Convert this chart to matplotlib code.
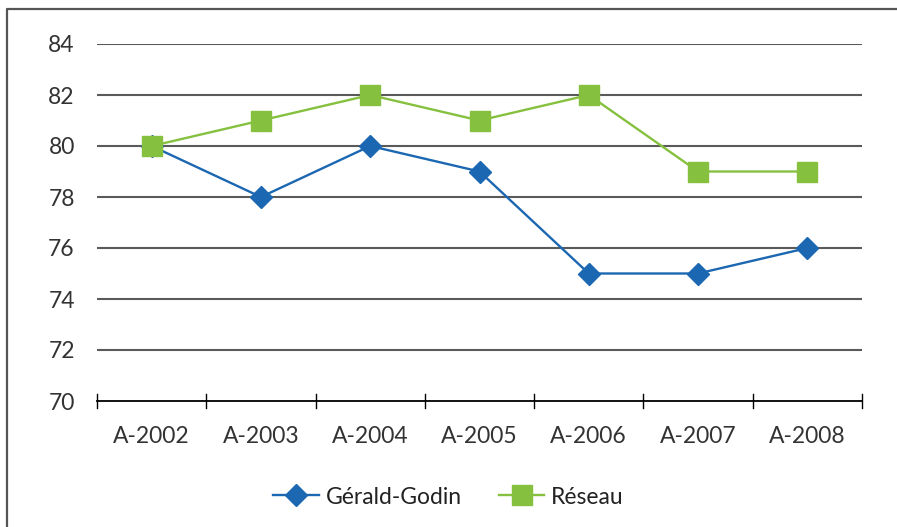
import matplotlib
matplotlib.use("Agg")
import matplotlib.pyplot as plt
from matplotlib.lines import Line2D

categories = ["A-2002", "A-2003", "A-2004", "A-2005", "A-2006", "A-2007", "A-2008"]
gerald_godin = [80, 78, 80, 79, 75, 75, 76]
reseau = [80, 81, 82, 81, 82, 79, 79]
yticks = [70, 72, 74, 76, 78, 80, 82, 84]

plt.rcParams['font.family'] = ['Lato', 'DejaVu Sans']

W, H = 897, 527
fig = plt.figure(figsize=(W/100, H/100), dpi=100)
ax = fig.add_axes([97/W, 1-401/H, (862-97)/W, (401-44)/H])

x = list(range(len(categories)))
ax.plot(x, gerald_godin, color='#1B67B2', lw=1.7, marker='D', ms=11.5,
        label='Gérald-Godin', zorder=3)
ax.plot(x, reseau, color='#86C03F', lw=1.7, marker='s', ms=14,
        label='Réseau', zorder=3)

ax.set_xlim(-0.5, len(categories)-0.5)
ax.set_ylim(70, 84)
ax.set_yticks(yticks)
ax.set_yticklabels([str(v) for v in yticks], fontsize=16.5, color='#333333')
for v in yticks[1:]:
    ax.axhline(v, color='#5a5a5a', lw=1.5, zorder=1)

ax.set_xticks(x)
ax.set_xticklabels(categories, fontsize=16.5, color='#333333')
ax.tick_params(axis='x', length=0, pad=18)
ax.tick_params(axis='y', length=0, pad=16)
for b in [i - 0.5 for i in range(len(categories)+1)]:
    ax.plot([b, b], [69.72, 70.28], color='black', lw=1, clip_on=False, zorder=2)
for s in ['top', 'right', 'left']:
    ax.spines[s].set_visible(False)
ax.spines['bottom'].set_color('black')
ax.spines['bottom'].set_linewidth(1.3)

leg = fig.legend(loc='center', bbox_to_anchor=(0.5, 1-497/H), ncol=2, frameon=False,
                 fontsize=16.5, handlelength=2.0, columnspacing=1.6, handletextpad=0.3)
for t in leg.get_texts():
    t.set_color('#222222')

# outer frame
fig.add_artist(Line2D([7/W, 7/W, 1.0], [0.0, 1-9/H, 1-9/H], color='#555555', lw=1.6,
                      transform=fig.transFigure))

fig.savefig('out.png', dpi=100)
